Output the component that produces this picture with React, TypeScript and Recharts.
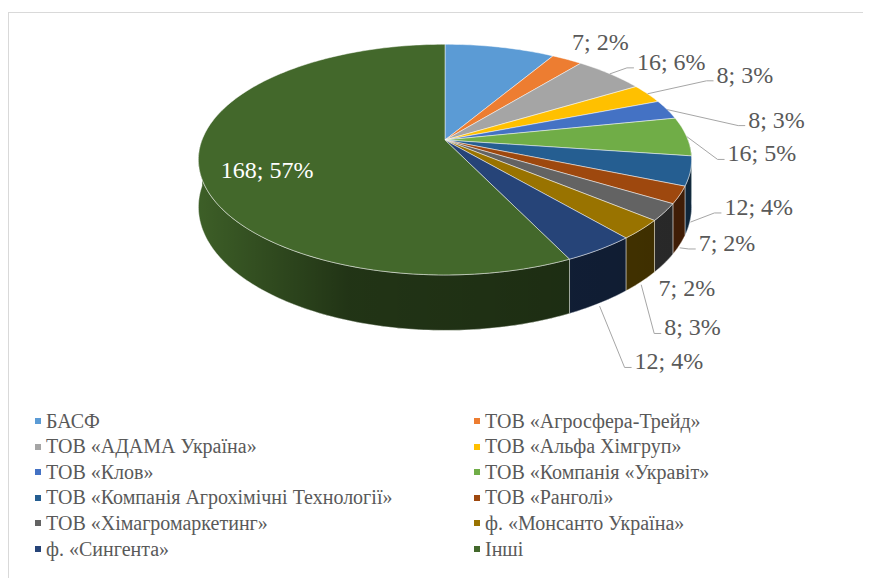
import React from "react";
import { PieChart, Pie, Cell, Legend } from "recharts";

const companies = [
  "БАСФ",
  "ТОВ «Агросфера-Трейд»",
  "ТОВ «АДАМА Україна»",
  "ТОВ «Альфа Хімгруп»",
  "ТОВ «Клов»",
  "ТОВ «Компанія «Укравіт»",
  "ТОВ «Компанія Агрохімічні Технології»",
  "ТОВ «Ранголі»",
  "ТОВ «Хімагромаркетинг»",
  "ф. «Монсанто Україна»",
  "ф. «Сингента»",
  "Інші",
];
const counts = [25, 7, 16, 8, 8, 16, 12, 7, 7, 8, 12, 168];
const shares = [9, 2, 6, 3, 3, 5, 4, 2, 2, 3, 4, 57];
const hasLabel = [false, true, true, true, true, true, true, true, true, true, true, true];

const colors = [
  "#5B9BD5", "#ED7D31", "#A5A5A5", "#FFC000", "#4472C4", "#70AD47",
  "#255E91", "#9E480E", "#636363", "#997300", "#264478", "#43682B",
];

// label placement: offset from the slice's rim point, plus leader line flag
const labelNudge: Array<[number, number, boolean]> = [
  [0, 0, false],
  [5, -17, false],
  [27, -12, true],
  [69, -19, true],
  [81, 10, true],
  [41, 17, true],
  [34, 36, true],
  [19, 48, true],
  [-6, 76, false],
  [23, 98, true],
  [35, 112, true],
  [0, 11, false],
];

const data = companies.map((name, i) => ({ name, value: counts[i], share: shares[i] }));

// 3D look: perspective-projected disc
const RX = 243; // horizontal radius
const RY = 112; // vertical radius
const K = 0.17; // perspective strength
const DEPTH = 46;
const RAD = Math.PI / 180;
const FONT = "Liberation Serif, DejaVu Serif, Times New Roman, serif";

const proj = (cx: number, cy: number, a: number, h = 0, r = 1) => {
  const u = r * Math.cos(a * RAD);
  const v = r * Math.sin(a * RAD);
  const den = 1 + K * v;
  return { x: cx + (RX * u) / den, y: cy - (RY * v) / den + (h * DEPTH) / den };
};

const arcPts = (cx: number, cy: number, from: number, to: number, h: number) => {
  const n = Math.max(2, Math.ceil(Math.abs(from - to)));
  const out: string[] = [];
  for (let i = 0; i <= n; i++) {
    const p = proj(cx, cy, from + ((to - from) * i) / n, h);
    out.push(`${p.x.toFixed(2)},${p.y.toFixed(2)}`);
  }
  return out;
};

// sector drawn from the angles recharts computed
const Slice3D = (props: any) => {
  const { cx, cy, startAngle, endAngle, fill } = props;
  const hi = Math.max(startAngle, endAngle);
  const lo = Math.min(startAngle, endAngle);
  const top = `M${cx},${cy} L${arcPts(cx, cy, hi, lo, 0).join(" L")} Z`;

  // visible wall: the part of the rim in the front half (-180..0)
  const wHi = Math.min(hi, 0);
  const wLo = Math.max(lo, -180);
  let wall = null;
  if (wHi > wLo) {
    const upper = arcPts(cx, cy, wHi, wLo, 0);
    const lower = arcPts(cx, cy, wLo, wHi, 1);
    const d = `M${upper.join(" L")} L${lower.join(" L")} Z`;
    wall = (
      <g>
        <defs>
          <linearGradient id="wallShade" gradientUnits="userSpaceOnUse" x1={cx - RX} y1={0} x2={cx + RX} y2={0}>
            <stop offset="0" stopColor="#000" stopOpacity={0.1} />
            <stop offset="0.3" stopColor="#000" stopOpacity={0.5} />
            <stop offset="1" stopColor="#000" stopOpacity={0.6} />
          </linearGradient>
        </defs>
        <path d={d} fill={fill} />
        <path d={d} fill="url(#wallShade)" stroke="#ffffff" strokeOpacity={0.55} strokeWidth={0.8} />
      </g>
    );
  }
  return (
    <g>
      {wall}
      <path d={top} fill={fill} stroke="#ffffff" strokeOpacity={0.6} strokeWidth={0.8} />
    </g>
  );
};

const renderLabel = (props: any) => {
  const { cx, cy, midAngle, index, value, payload } = props;
  const share = payload && payload.share !== undefined ? payload.share : shares[index];
  if (!hasLabel[index]) return null;
  const text = `${value}; ${share}%`;
  const [dx, dy, leader] = labelNudge[index];
  if (share > 50) {
    const p = proj(cx, cy, midAngle, 0, 0.73);
    return (
      <text x={p.x + dx} y={p.y + dy} fill="#ffffff" fontFamily={FONT} fontSize={24} textAnchor="middle" dominantBaseline="central">
        {text}
      </text>
    );
  }
  const a = proj(cx, cy, midAngle);
  const tx = a.x + dx;
  const ty = a.y + dy;
  const front = Math.sin(midAngle * RAD) < -0.2;
  const s = front ? proj(cx, cy, midAngle, 1) : a;
  return (
    <g>
      {leader && (
        <polyline
          points={`${s.x},${s.y + (front ? 3 : 0)} ${tx - 10},${ty + 6} ${tx - 3},${ty + 6}`}
          fill="none"
          stroke="#A6A6A6"
          strokeWidth={1}
        />
      )}
      <text x={tx} y={ty} fill="#595959" fontFamily={FONT} fontSize={24} textAnchor="start" dominantBaseline="central">
        {text}
      </text>
    </g>
  );
};

const renderLegend = (props: any) => {
  const items = [...(props.payload || [])].sort(
    (p: any, q: any) => companies.indexOf(p.value) - companies.indexOf(q.value)
  );
  return (
    <div style={{ position: "relative", width: 862, height: 160, fontFamily: FONT }}>
      {items.map((it: any, i: number) => {
        const col = i % 2;
        const row = Math.floor(i / 2);
        return (
          <div
            key={`lg-${i}`}
            style={{
              position: "absolute",
              left: col ? 465 : 26,
              top: row * 25.6,
              height: 24,
              display: "flex",
              alignItems: "center",
              fontSize: 20,
              color: "#595959",
              whiteSpace: "nowrap",
            }}
          >
            <span style={{ width: 6, height: 6, background: it.color, marginRight: 5, display: "inline-block" }} />
            <span>{it.value}</span>
          </div>
        );
      })}
    </div>
  );
};

export default function App() {
  return (
    <div
      style={{
        marginTop: 4,
        width: 880,
        height: 580,
        borderLeft: "1px solid #d9d9d9",
        borderTop: "1px solid #d9d9d9",
        background: "#ffffff",
        fontFamily: FONT,
      }}
    >
      <PieChart width={862} height={565} margin={{ top: 0, right: 0, bottom: 0, left: 0 }}>
        <Pie
          data={data}
          dataKey="value"
          nameKey="name"
          cx={436}
          cy={127}
          outerRadius={RX}
          startAngle={90}
          endAngle={-270}
          stroke="none"
          shape={Slice3D}
          activeShape={Slice3D}
          inactiveShape={Slice3D}
          label={renderLabel}
          labelLine={false}
          isAnimationActive={false}
        >
          {data.map((d, i) => (
            <Cell key={d.name} fill={colors[i]} />
          ))}
        </Pie>
        <Legend content={renderLegend} wrapperStyle={{ left: 0, top: 396, width: 862 }} />
      </PieChart>
    </div>
  );
}
